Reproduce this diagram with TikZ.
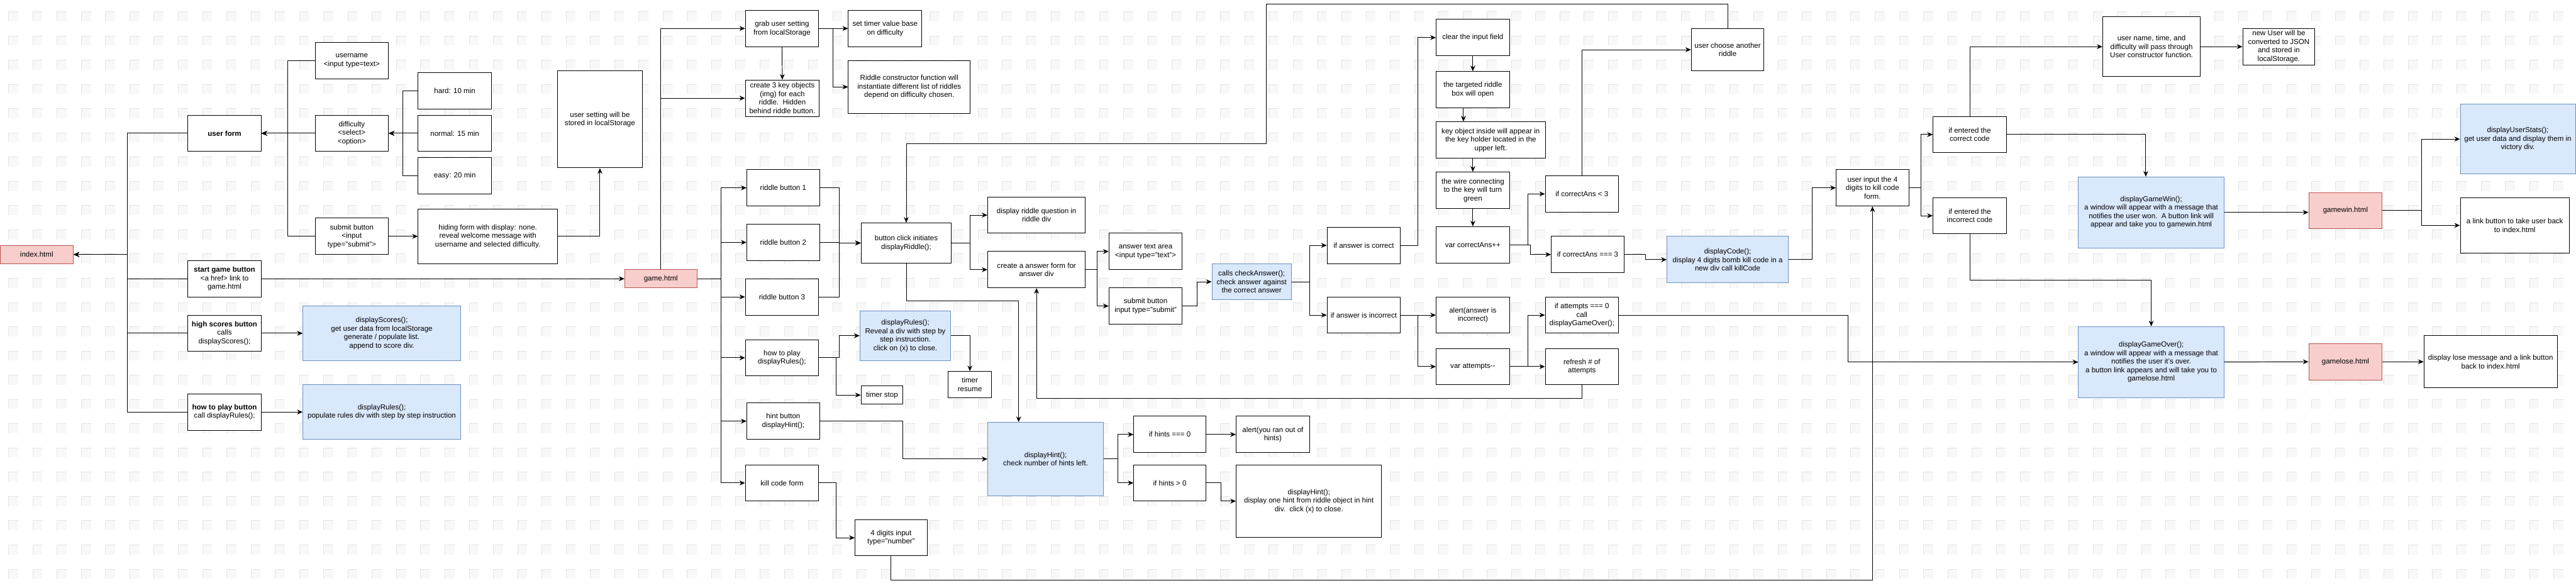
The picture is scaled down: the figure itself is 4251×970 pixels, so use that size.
\documentclass[tikz,border=0pt]{standalone}
\usepackage{fontspec}
\setmainfont{Liberation Sans}
\usetikzlibrary{arrows.meta}

\definecolor{bluefill}{RGB}{218,232,252}
\definecolor{blueline}{RGB}{108,142,191}
\definecolor{redfill}{RGB}{248,206,204}
\definecolor{redline}{RGB}{184,84,80}
\definecolor{gridmark}{RGB}{248,248,248}
\definecolor{gridedge}{RGB}{228,228,228}

\tikzset{
  box/.style={draw=black, line width=0.75pt, fill=white, align=center, inner sep=1.5pt,
    font=\fontsize{9}{10.5}\selectfont, minimum width=90.75pt, minimum height=45pt},
  wh/.style 2 args={minimum width=#1*0.75pt, minimum height=#2*0.75pt},
  fnbox/.style={box, draw=blueline, fill=bluefill},
  pagebox/.style={box, draw=redline, fill=redfill},
  arr/.style={-{Stealth[length=7pt,width=6pt]}, line width=0.75pt}
}

\begin{document}
\begin{tikzpicture}[x=0.75pt,y=0.75pt,yscale=-1,xscale=1]
            \fill[white] (0,0) rectangle (4251,970);
            \useasboundingbox (0,0) rectangle (4251,970);
            %background grid
            \foreach \i in {0,...,105}{\foreach \j in {0,...,23}{
              \fill[gridmark] (14+40*\i,19+40*\j) rectangle ++(16,16);
              \draw[gridedge, line width=0.4pt] (14+40*\i,35+40*\j) -- ++(0,-16) -- ++(16,0);}}

            % Text Node -- index.html
            \node[pagebox, wh={121}{30}] (idx) at (60.5,420) {index.html};
            \node[box] (ufm) at (370.5,220) {\textbf{user form}};
            \node[box] (stg) at (370.5,460) {\textbf{start game button}\\<a href> link to\\game.html};
            \node[box] (hsc) at (370.5,550) {\textbf{high scores button}\\calls\\displayScores();};
            \node[box] (htp) at (370.5,680) {\textbf{how to play button}\\call displayRules();};
            \node[box] (usr) at (580.5,100) {username\\<input type=text>};
            \node[box] (dif) at (580.5,220) {difficulty\\<select>\\<option>};
            \node[box] (sub) at (580.5,390) {submit button\\<input\\type="submit">};
            \node[box] (hrd) at (750.5,150) {hard: 10 min};
            \node[box] (nrm) at (750.5,220) {normal: 15 min};
            \node[box] (esy) at (750.5,290) {easy: 20 min};
            \node[box, wh={230}{90}] (hid) at (805,390) {hiding form with display: none.\\reveal welcome message with\\username and selected difficulty.};
            \node[box, wh={140}{160}] (sto) at (990,197) {user setting will be\\stored in localStorage};
            \node[fnbox, wh={260}{90}] (dsc) at (630,550) {displayScores();\\get user data from localStorage\\generate / populate list.\\append to score div.};
            \node[fnbox, wh={260}{90}] (dr1) at (630,680) {displayRules();\\populate rules div with step by step instruction};

            % Text Node -- game.html
            \node[pagebox, wh={119}{30}] (gam) at (1090.5,460) {game.html};
            \node[box] (grb) at (1290.5,47) {grab user setting\\from localStorage};
            \node[box, wh={122}{60}] (ck3) at (1291,162) {create 3 key objects\\(img) for each\\riddle.\ \ Hidden\\behind riddle button.};
            \node[box] (tmr) at (1460.5,47) {set timer value base\\on difficulty};
            \node[box, wh={201}{87}] (rcf) at (1500.5,143.5) {Riddle constructor function will\\instantiate different list of riddles\\depend on difficulty chosen.};
            \node[box, wh={120}{60}] (rb1) at (1292.5,310) {riddle button 1};
            \node[box, wh={120}{60}] (rb2) at (1292.5,400) {riddle button 2};
            \node[box] (rb3) at (1290.5,490) {riddle button 3};
            \node[box] (htg) at (1290.5,590.5) {how to play\\displayRules();};
            \node[box, wh={120}{60}] (hnt) at (1292.5,695) {hint button\\displayHint();};
            \node[box] (kcf) at (1290.5,797) {kill code form};
            \node[box, wh={149}{66}] (bci) at (1495.5,401) {button click initiates\\displayRiddle();};
            \node[box, wh={161}{60}] (drq) at (1710.5,355) {display riddle question in\\riddle div};
            \node[box, wh={161}{60}] (caf) at (1710.5,445) {create a answer form for\\answer div};
            \node[box] (ata) at (1890.5,415) {answer text area\\<input type="text">};
            \node[box] (asb) at (1890.5,505) {submit button\\input type="submit"};
            \node[fnbox, wh={150}{82}] (dr2) at (1494,554) {displayRules();\\Reveal a div with step by\\step instruction.\\click on (x) to close.};
            \node[box, wh={69}{30}] (tst) at (1455.5,652) {timer stop};
            \node[box, wh={71}{43}] (trs) at (1600.5,634.5) {timer\\resume};
            \node[fnbox, wh={191}{121}] (dh1) at (1725.5,757.5) {displayHint();\\check number of hints left.};
            \node[box, wh={119}{60}] (hz) at (1930.5,717) {if hints === 0};
            \node[box, wh={119}{60}] (hp) at (1930.5,797) {if hints > 0};
            \node[box] (aro) at (2100.5,717) {alert(you ran out of\\hints)};
            \node[box, wh={240}{120}] (dh2) at (2160,827) {displayHint();\\display one hint from riddle object in hint\\div.\ \ click (x) to close.};
            \node[box, wh={119}{59}] (fdi) at (1470.5,887.5) {4 digits input\\type="number"};

            % Text Node -- answer checking
            \node[fnbox, wh={131}{60}] (cka) at (2065.5,465) {calls checkAnswer();\\check answer against\\the correct answer};
            \node[box] (iac) at (2250.5,405) {if answer is correct};
            \node[box] (iai) at (2250.5,520) {if answer is incorrect};
            \node[box] (clr) at (2430.5,62) {clear the input field};
            \node[box] (tgt) at (2430.5,148) {the targeted riddle\\box will open};
            \node[box, wh={180}{60}] (key) at (2460,231) {key object inside will appear in\\the key holder located in the\\upper left.};
            \node[box] (wir) at (2430.5,314) {the wire connecting\\to the key will turn\\green};
            \node[box] (cap) at (2430.5,404) {var correctAns++};
            \node[box] (alr) at (2430.5,520) {alert(answer is\\incorrect)};
            \node[box] (att) at (2430.5,605) {var attempts-{}-};
            \node[box] (lt3) at (2610.5,320) {if correctAns < 3};
            \node[box, wh={120}{60}] (eq3) at (2620,420) {if correctAns === 3};
            \node[box] (at0) at (2610.5,520) {if attempts === 0\\call\\displayGameOver();};
            \node[box] (rfa) at (2610.5,605) {refresh \# of\\attempts};
            \node[box, wh={120}{70}] (uca) at (2851,82) {user choose another\\riddle};
            \node[fnbox, wh={200}{77}] (dco) at (2851,428.5) {displayCode();\\display 4 digits bomb kill code in a\\new div call killCode};

            % Text Node -- kill code and endings
            \node[box, wh={120}{60}] (uin) at (3090,310) {user input the 4\\digits to kill code\\form.};
            \node[box] (iec) at (3250.5,222) {if entered the\\correct code};
            \node[box] (iei) at (3250.5,356) {if entered the\\incorrect code};
            \node[box, wh={161}{98}] (unt) at (3550.5,77) {user name, time, and\\difficulty will pass through\\User constructor function.};
            \node[box, wh={119}{60}] (nus) at (3760.5,77) {new User will be\\converted to JSON\\and stored in\\localStorage.};
            \node[fnbox, wh={240}{117}] (gwn) at (3550,350.5) {displayGameWin();\\a window will appear with a message that\\notifies the user won.\ \ A button link will\\appear and take you to gamewin.html};
            \node[pagebox, wh={121}{59}] (gwh) at (3870.5,347.5) {gamewin.html};
            \node[fnbox, wh={190}{115}] (ust) at (4155,229.5) {displayUserStats();\\get user data and display them in\\victory div.};
            \node[box, wh={180}{92}] (lnk) at (4150,372) {a link button to take user back\\to index.html};
            \node[fnbox, wh={240}{117}] (gov) at (3550,597.5) {displayGameOver();\\a window will appear with a message that\\notifies the user it's over.\\a button link appears and will take you to\\gamelose.html};
            \node[pagebox, wh={121}{60}] (glh) at (3870.5,597) {gamelose.html};
            \node[box, wh={220}{86}] (lse) at (4110,597) {display lose message and a link button\\back to index.html};

            %bend points
            \coordinate (tka) at (210,0);
            \coordinate (tkb) at (475,0);
            \coordinate (tkc) at (665,0);
            \coordinate (tkd) at (1375,0);
            \coordinate (tke) at (1190,0);
            \coordinate (tkf) at (1385,0);
            \coordinate (tkg) at (1380,0);
            \coordinate (tkh) at (1490,0);
            \coordinate (tki) at (1601,0);
            \coordinate (tkj) at (1810,0);
            \coordinate (tkk) at (1975,0);
            \coordinate (tkl) at (2161,0);
            \coordinate (tkm) at (2340,0);
            \coordinate (tkn) at (2521,0);
            \coordinate (tko) at (2526,0);
            \coordinate (tkp) at (2715,0);
            \coordinate (tkq) at (2990,0);
            \coordinate (tkr) at (3170,0);
            \coordinate (tks) at (3996,0);
            \coordinate (tkt) at (3050,0);
            \coordinate (tku) at (1845,0);
            \coordinate (tkv) at (2015,0);
            \coordinate (kx) at (2415,0);
            \coordinate (gx) at (3541,0);
            \coordinate (bdh) at (1681,497);
            \coordinate (brf) at (0,657);
            \coordinate (bie) at (0,462);
            \coordinate (bfd) at (0,957);
            \coordinate (u1) at (2090,7);
            \coordinate (u2) at (2090,237);

            %Straight Lines -- index.html
            \draw[arr] (ufm.west) -| (tka |- idx.east) -- (idx.east);
            \draw[arr] (stg.west) -| (tka |- idx.east) -- (idx.east);
            \draw[arr] (hsc.west) -| (tka |- idx.east) -- (idx.east);
            \draw[arr] (htp.west) -| (tka |- idx.east) -- (idx.east);
            \draw[arr] (usr.west) -| (tkb |- ufm.east) -- (ufm.east);
            \draw[arr] (dif.west) -- (ufm.east);
            \draw[arr] (sub.west) -| (tkb |- ufm.east) -- (ufm.east);
            \draw[arr] (hrd.west) -| (tkc |- dif.east) -- (dif.east);
            \draw[arr] (nrm.west) -- (dif.east);
            \draw[arr] (esy.west) -| (tkc |- dif.east) -- (dif.east);
            \draw[arr] (sub.east) -- (hid.west);
            \draw[arr] (hid.east) -| (sto.south);
            \draw[arr] (stg.east) -- (gam.west);
            \draw[arr] (hsc.east) -- (dsc.west);
            \draw[arr] (htp.east) -- (dr1.west);

            %Straight Lines -- game.html
            \draw[arr] (gam.north) |- (grb.west);
            \draw[arr] (gam.north) |- (ck3.west);
            \draw[arr] (grb.south) -- (ck3.north);
            \draw[arr] (grb.east) -- (tmr.west);
            \draw[arr] (grb.east) -| (tkd |- rcf.west) -- (rcf.west);
            \foreach \b in {rb1,rb2,rb3,htg,hnt,kcf}
              \draw[arr] (gam.east) -| (tke |- \b.west) -- (\b.west);
            \foreach \b in {rb1,rb2,rb3}
              \draw[arr] (\b.east) -| (tkf |- bci.west) -- (bci.west);
            \draw[arr] (htg.east) -| (tkf |- dr2.west) -- (dr2.west);
            \draw[arr] (htg.east) -| (tkg |- tst.west) -- (tst.west);
            \draw[arr] (dr2.east) -| (trs.north);
            \draw[arr] (hnt.east) -| (tkh |- dh1.west) -- (dh1.west);
            \draw[arr] (kcf.east) -| (tkg |- fdi.west) -- (fdi.west);
            \draw[arr] (bci.south) |- (bdh) -- (bdh |- dh1.north);
            \draw[arr] (bci.east) -| (tki |- drq.west) -- (drq.west);
            \draw[arr] (bci.east) -| (tki |- caf.west) -- (caf.west);
            \draw[arr] (caf.east) -| (tkj |- ata.west) -- (ata.west);
            \draw[arr] (caf.east) -| (tkj |- asb.west) -- (asb.west);
            \draw[arr] (asb.east) -| (tkk |- cka.west) -- (cka.west);
            \draw[arr] (dh1.east) -| (tku |- hz.west) -- (hz.west);
            \draw[arr] (dh1.east) -| (tku |- hp.west) -- (hp.west);
            \draw[arr] (hz.east) -- (aro.west);
            \draw[arr] (hp.east) -| (tkv |- dh2.west) -- (dh2.west);

            %Straight Lines -- answer checking
            \draw[arr] (cka.east) -| (tkl |- iac.west) -- (iac.west);
            \draw[arr] (cka.east) -| (tkl |- iai.west) -- (iai.west);
            \draw[arr] (iac.east) -| (tkm |- clr.west) -- (clr.west);
            \draw[arr] (clr.south) -- (tgt.north);
            \draw[arr] (kx |- tgt.south) -- (kx |- key.north);
            \draw[arr] (kx |- key.south) -| (wir.north);
            \draw[arr] (wir.south) -- (cap.north);
            \draw[arr] (cap.east) -| (tkn |- lt3.west) -- (lt3.west);
            \draw[arr] (cap.east) -| (tko |- eq3.west) -- (eq3.west);
            \draw[arr] (lt3.north) |- (uca.west);
            \draw[arr] (uca.north) |- (u1) -- (u2) -| (bci.north);
            \draw[arr] (eq3.east) -| (tkp |- dco.west) -- (dco.west);
            \draw[arr] (iai.east) -- (alr.west);
            \draw[arr] (iai.east) -| (tkm |- att.west) -- (att.west);
            \draw[arr] (att.east) -- (rfa.west);
            \draw[arr] (att.east) -| (tkn |- at0.west) -- (at0.west);
            \draw[arr] (rfa.south) |- (caf.south |- brf) -- (caf.south);

            %Straight Lines -- kill code and endings
            \draw[arr] (dco.east) -| (tkq |- uin.west) -- (uin.west);
            \draw[arr] (fdi.south) |- (uin.south |- bfd) -- (uin.south);
            \draw[arr] (uin.east) -| (tkr |- iec.west) -- (iec.west);
            \draw[arr] (uin.east) -| (tkr |- iei.west) -- (iei.west);
            \draw[arr] (iec.north) |- (unt.west);
            \draw[arr] (unt.east) -- (nus.west);
            \draw[arr] (iec.east) -| (gx |- gwn.north);
            \draw[arr] (gwn.east) -- (gwn.east -| gwh.west);
            \draw[arr] (gwh.east) -| (tks |- ust.west) -- (ust.west);
            \draw[arr] (gwh.east) -| (tks |- lnk.west) -- (lnk.west);
            \draw[arr] (iei.south) |- (gov.north |- bie) -- (gov.north);
            \draw[arr] (at0.east) -| (tkt |- gov.west) -- (gov.west);
            \draw[arr] (gov.east) -- (glh.west);
            \draw[arr] (glh.east) -- (lse.west);

        \end{tikzpicture}
\end{document}
